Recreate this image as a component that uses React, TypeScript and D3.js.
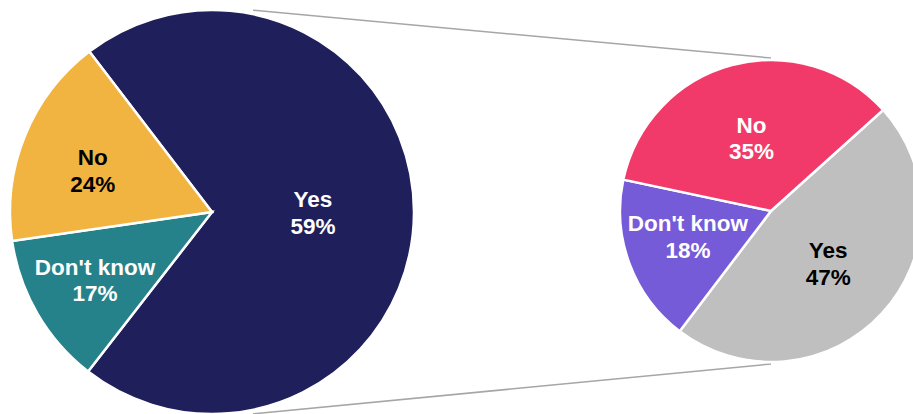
import React from "react";
import * as d3 from "d3";

const W = 913;
const H = 414;

// Left pie (main): slice labels and angular shares as drawn
const leftCategories = ["Yes", "Don't know", "No"];
const leftLabels = ["59%", "17%", "24%"];
const leftShares = [70.9, 12.2, 16.9];
const leftColors = ["#1F1F5B", "#26828A", "#F2B441"];
const leftTextColors = ["#FFFFFF", "#FFFFFF", "#000000"];
const leftLabelRadius = [0.5, 0.67, 0.625];
const leftLabelShift = [0, 0, -3];

// Right pie (breakdown)
const rightCategories = ["Yes", "Don't know", "No"];
const rightValues = [47, 18, 35];
const rightColors = ["#BFBFBF", "#765BD8", "#F23A6A"];
const rightTextColors = ["#000000", "#FFFFFF", "#FFFFFF"];
const rightLabelRadius = [0.515, 0.575, 0.5];
const rightLabelShift = [0, 3.5, 0];

const deg = Math.PI / 180;

function PieGroup(props: {
  cx: number;
  cy: number;
  r: number;
  values: number[];
  cats: string[];
  labels: string[];
  colors: string[];
  textColors: string[];
  labelR: number[];
  labelShift: number[];
  start: number;
}) {
  const { cx, cy, r, values, cats, labels, colors, textColors, labelR, labelShift, start } = props;
  const pie = d3
    .pie<number>()
    .sort(null)
    .value((d) => d)
    .startAngle(start)
    .endAngle(start + 2 * Math.PI);
  const arcs = pie(values);
  const arc = d3.arc<d3.PieArcDatum<number>>().innerRadius(0).outerRadius(r);
  return (
    <g transform={`translate(${cx},${cy})`}>
      {arcs.map((a, i) => (
        <path key={i} d={arc(a) || ""} fill={colors[i]} stroke="#FFFFFF" strokeWidth={2.5} strokeLinejoin="miter" />
      ))}
      {arcs.map((a, i) => {
        const mid = (a.startAngle + a.endAngle) / 2 + labelShift[i] * deg;
        const lr = labelR[i] * r;
        const x = lr * Math.sin(mid);
        const y = -lr * Math.cos(mid);
        return (
          <text
            key={"t" + i}
            x={x}
            y={y}
            textAnchor="middle"
            fill={textColors[i]}
            fontFamily="'Liberation Sans', Arial, sans-serif"
            fontWeight="bold"
            fontSize={22.5}
          >
            <tspan x={x} dy={-5.5}>{cats[i]}</tspan>
            <tspan x={x} dy={26.8}>{labels[i]}</tspan>
          </text>
        );
      })}
    </g>
  );
}

function rightLabels() {
  return rightValues.map((v) => `${v}%`);
}

export default function App() {
  const lcx = 212, lcy = 212, lr = 202;
  const rcx = 771, rcy = 211, rr = 151;
  const a = 11.5 * deg;
  const topStart = [lcx + (lr + 4) * Math.sin(a), lcy - (lr + 4) * Math.cos(a)];
  const botStart = [lcx + (lr + 4) * Math.sin(a), lcy + (lr + 4) * Math.cos(a)];
  const topEnd = [rcx, rcy - rr - 2];
  const botEnd = [rcx, rcy + rr + 2];
  return (
    <svg
      width={W}
      height={H}
      style={{ position: "absolute", left: 0, top: 0, background: "#FFFFFF" }}
    >
      <line x1={topStart[0]} y1={topStart[1]} x2={topEnd[0]} y2={topEnd[1]} stroke="#A6A6A6" strokeWidth={1.5} />
      <line x1={botStart[0]} y1={botStart[1]} x2={botEnd[0]} y2={botEnd[1]} stroke="#A6A6A6" strokeWidth={1.5} />
      <PieGroup
        cx={lcx}
        cy={lcy}
        r={lr}
        values={leftShares}
        cats={leftCategories}
        labels={leftLabels}
        colors={leftColors}
        textColors={leftTextColors}
        labelR={leftLabelRadius}
        labelShift={leftLabelShift}
        start={-37.4 * deg}
      />
      <PieGroup
        cx={rcx}
        cy={rcy}
        r={rr}
        values={rightValues}
        cats={rightCategories}
        labels={rightLabels()}
        colors={rightColors}
        textColors={rightTextColors}
        labelR={rightLabelRadius}
        labelShift={rightLabelShift}
        start={48 * deg}
      />
    </svg>
  );
}
